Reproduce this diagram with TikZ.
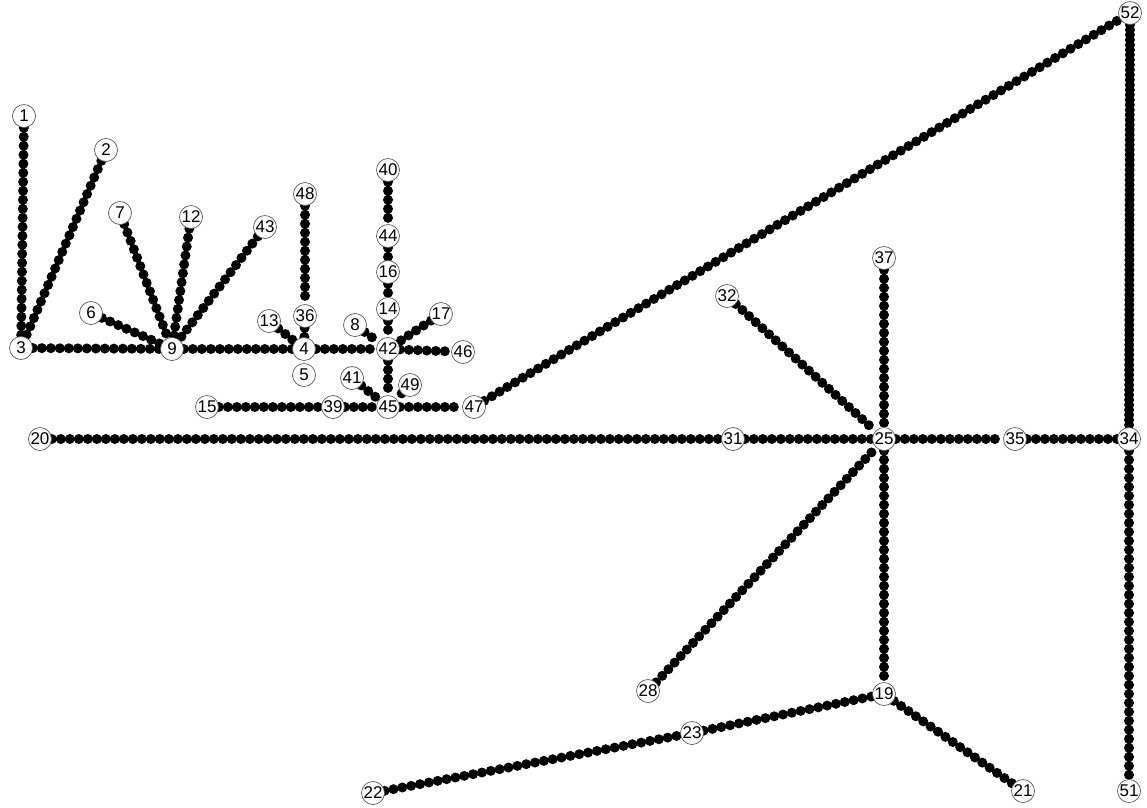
\documentclass[tikz,border=0pt]{standalone}
\usepackage{fontspec}
\setmainfont{Liberation Sans}
\usetikzlibrary{positioning}
\pgfdeclarelayer{bg}
\pgfsetlayers{bg,main}

\begin{document}
\begin{tikzpicture}[x=1pt, y=-1pt,
  stop/.style={circle, draw=black!65, line width=0.7pt, fill=white, minimum size=23pt, inner sep=0pt, font=\fontsize{17}{17}\selectfont},
  chain/.style={line width=10pt, line cap=round, dash pattern=on 0pt off 9pt},
  thick chain/.style={chain, dash pattern=on 0pt off 5pt}]
\useasboundingbox (0,0) rectangle (1147,807);
% stations
\node[stop] (n1) at (24,116) {1};
\node[stop] (n2) at (106,150) {2};
\node[stop] (n3) at (21,348) {3};
\node[stop] (n4) at (304,349) {4};
\node[stop] (n5) at (304,375) {5};
\node[stop] (n6) at (91,313) {6};
\node[stop] (n7) at (120,213) {7};
\node[stop] (n8) at (355,325) {8};
\node[stop] (n9) at (172,349) {9};
\node[stop] (n12) at (191,217) {12};
\node[stop] (n13) at (269,321) {13};
\node[stop] (n14) at (388,309) {14};
\node[stop] (n15) at (207,407) {15};
\node[stop] (n16) at (388,272) {16};
\node[stop] (n17) at (441,314) {17};
\node[stop] (n19) at (884,694) {19};
\node[stop] (n20) at (40,439) {20};
\node[stop] (n21) at (1023,791) {21};
\node[stop] (n22) at (373,793) {22};
\node[stop] (n23) at (692,733) {23};
\node[stop] (n25) at (884,439) {25};
\node[stop] (n28) at (648,691) {28};
\node[stop] (n31) at (733,439) {31};
\node[stop] (n32) at (727,296) {32};
\node[stop] (n34) at (1129,439) {34};
\node[stop] (n35) at (1015,439) {35};
\node[stop] (n36) at (305,316) {36};
\node[stop] (n37) at (884,258) {37};
\node[stop] (n39) at (333,407) {39};
\node[stop] (n40) at (388,170) {40};
\node[stop] (n41) at (352,378) {41};
\node[stop] (n42) at (388,349) {42};
\node[stop] (n43) at (265,227) {43};
\node[stop] (n44) at (388,236) {44};
\node[stop] (n45) at (388,407) {45};
\node[stop] (n46) at (463,352) {46};
\node[stop] (n47) at (474,407) {47};
\node[stop] (n48) at (305,194) {48};
\node[stop] (n49) at (410,385) {49};
\node[stop] (n51) at (1129,791) {51};
\node[stop] (n52) at (1130,13) {52};
% links
\begin{pgfonlayer}{bg}
\draw[chain] (n1) -- (n3);
\draw[chain] (n2) -- (n3);
\draw[chain] (n3) -- (n9);
\draw[chain] (n6) -- (n9);
\draw[chain] (n7) -- (n9);
\draw[chain] (n12) -- (n9);
\draw[chain] (n43) -- (n9);
\draw[chain] (n9) -- (n4);
\draw[chain] (n13) -- (n4);
\draw[chain] (n36) -- (n4);
\draw[chain] (n48) -- (n36);
\draw[chain] (n4) -- (n42);
\draw[chain] (n8) -- (n42);
\draw[chain] (n14) -- (n42);
\draw[chain] (n16) -- (n14);
\draw[chain] (n44) -- (n16);
\draw[chain] (n40) -- (n44);
\draw[chain] (n17) -- (n42);
\draw[chain] (n42) -- (n46);
\draw[chain] (n42) -- (n45);
\draw[chain] (n41) -- (n45);
\draw[chain] (n49) -- (n45);
\draw[chain] (n39) -- (n45);
\draw[chain] (n15) -- (n39);
\draw[chain] (n45) -- (n47);
\draw[chain] (n47) -- (n52);
\draw[thick chain] (n52) -- (n34);
\draw[chain] (n34) -- (n51);
\draw[chain] (n35) -- (n34);
\draw[chain] (n25) -- (n35);
\draw[chain] (n31) -- (n25);
\draw[chain] (n20) -- (n31);
\draw[chain] (n32) -- (n25);
\draw[chain] (n37) -- (n25);
\draw[chain] (n28) -- (n25);
\draw[chain] (n25) -- (n19);
\draw[chain] (n23) -- (n19);
\draw[chain] (n22) -- (n23);
\draw[chain] (n19) -- (n21);
\end{pgfonlayer}
\end{tikzpicture}
\end{document}
